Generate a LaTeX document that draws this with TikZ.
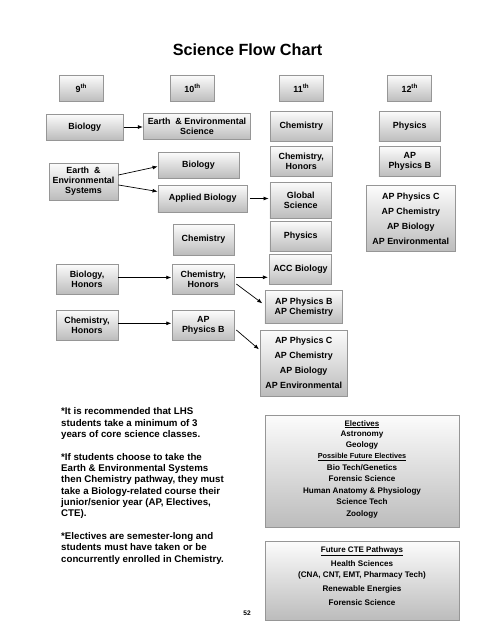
\documentclass[tikz,border=0pt]{standalone}
\usepackage{fontspec}
\setmainfont{Liberation Sans}
\usetikzlibrary{arrows.meta,calc}
\definecolor{boxborder}{RGB}{150,150,150}
\definecolor{boxtop}{RGB}{252,252,252}
\definecolor{boxbot}{RGB}{188,188,188}
\begin{document}
\begin{tikzpicture}[x=1pt,y=-1pt,
  sz/.style 2 args={minimum width=#1pt,minimum height=#2pt},
  box/.style={draw=boxborder, line width=0.8pt, top color=boxtop, bottom color=boxbot,
    align=center, inner sep=0pt, font=\fontsize{8.9}{10}\selectfont\bfseries},
  listbox/.style={box, font=\fontsize{8.9}{15}\selectfont\bfseries},
  bigbox/.style={draw=boxborder, line width=0.8pt, top color=boxtop, bottom color=boxbot, inner sep=0pt},
  etext/.style={anchor=base, inner sep=0pt, font=\fontsize{8.1}{10}\selectfont\bfseries},
  ehead/.style={anchor=base, inner sep=0pt, font=\fontsize{8.0}{10}\selectfont\bfseries},
  eheadsmall/.style={anchor=base, inner sep=0pt, font=\fontsize{7.3}{9}\selectfont\bfseries},
  arr/.style={-{Latex[length=5pt,width=4pt]}, line width=0.7pt, black}]
\useasboundingbox (0,0) rectangle (495,640);
\fill[white] (0,0) rectangle (495,640);

% title
\node[inner sep=0pt, font=\fontsize{16.2}{18}\selectfont\bfseries] (title) at (247.5,50) {Science Flow Chart};

% headers
\node[box, sz={44}{26.7}] (h9)  at (81.3,88.3)  {9\textsuperscript{th}};
\node[box, sz={43.6}{26.7}] (h10) at (192.5,88.3) {10\textsuperscript{th}};
\node[box, sz={44}{26.7}] (h11) at (301.3,88.3) {11\textsuperscript{th}};
\node[box, sz={44}{26.7}] (h12) at (409.7,88.3) {12\textsuperscript{th}};

% 9th column
\node[box, sz={77}{26}] (bio9) at (84.8,127) {Biology};
\node[box, sz={69}{37}] (ees9) at (83.5,181.5) {Earth~~\&\\Environmental\\Systems};
\node[box, sz={62}{30}] (bh9) at (87,279) {Biology,\\Honors};
\node[box, sz={62}{30}] (chh9) at (87,325) {Chemistry,\\Honors};

% 10th column
\node[box, sz={107.5}{26.5}] (ees10) at (197,126.2) {Earth~~\& Environmental\\Science};
\node[box, sz={81}{26}] (bio10) at (198.5,165) {Biology};
\node[box, sz={89.5}{27}] (ab10) at (202.7,198.5) {Applied Biology};
\node[box, sz={61}{31}] (chem10) at (203.5,239.5) {Chemistry};
\node[box, sz={61.3}{30}] (chh10) at (203.3,279.3) {Chemistry,\\Honors};
\node[box, sz={61.3}{30}] (apb10) at (203.3,325.7) {AP\\Physics B};

% 11th column
\node[box, sz={61.3}{30.7}] (chem11) at (301.3,126.3) {Chemistry};
\node[box, sz={61.3}{30}] (chh11) at (301.3,161.7) {Chemistry,\\Honors};
\node[box, sz={61.7}{36}] (gs11) at (300.8,200) {Global\\Science};
\node[box, sz={61.7}{30.7}] (phys11) at (300.8,236.3) {Physics};
\node[box, sz={62.4}{30.3}] (acc11) at (300.5,269.2) {ACC Biology};
\node[box, sz={77.7}{32.6}] (apbc11) at (303.8,307) {AP Physics B\\AP Chemistry};
\node[listbox, sz={87.3}{66}] (aplist11) at (303.7,363) {AP Physics C\\AP Chemistry\\AP Biology\\AP Environmental};

% 12th column
\node[box, sz={61.7}{30.7}] (phys12) at (409.8,126.3) {Physics};
\node[box, sz={61.7}{30}] (apb12) at (409.8,161.7) {AP\\Physics B};
\node[listbox, sz={88.3}{66}] (aplist12) at (410.8,218.7) {AP Physics C\\AP Chemistry\\AP Biology\\AP Environmental};

% arrows
\draw[arr] (bio9.east) -- (bio9.east -| ees10.west);
\draw[arr] ($(ees9.east)+(0,-6.5)$) -- ($(bio10.west)+(0,1.5)$);
\draw[arr] ($(ees9.east)+(0,3.5)$) -- ($(ab10.west)+(0,-7)$);
\draw[arr] ($(ab10.east)+(2,0)$) -- ($(ab10.east -| gs11.west)+(-1,0)$);
\draw[arr] ($(bh9.east)+(0,-1.5)$) -- ($(chh10.west)+(-1,-1.8)$);
\draw[arr] ($(chh10.east)+(2,-2)$) -- ($(chh10.east -| acc11.west)+(-1,-2)$);
\draw[arr] ($(chh10.east)+(2,4.7)$) -- ($(apbc11.west)+(-2.3,-3.7)$);
\draw[arr] ($(chh9.east)+(0,-1.7)$) -- ($(apb10.west)+(-1,-2.4)$);
\draw[arr] ($(apb10.east)+(2,4.3)$) -- ($(aplist11.west)+(-0.7,-13.7)$);

% notes
\node[anchor=north west, inner sep=0pt, align=left, font=\fontsize{9.7}{11.33}\selectfont\bfseries] (notes) at (61,407.5)
{*It is recommended that LHS\\
students take a minimum of 3\\
years of core science classes.\\[11.33pt]
*If students choose to take the\\
Earth \& Environmental Systems\\
then Chemistry pathway, they must\\
take a Biology-related course their\\
junior/senior year (AP, Electives,\\
CTE).\\[11.33pt]
*Electives are semester-long and\\
students must have taken or be\\
concurrently enrolled in Chemistry.};

% electives box
\node[bigbox, sz={194}{112}] (elect) at (362,471) {};
\node[ehead] (e1) at (362,426.1) {\underline{Electives}};
\node[etext] (e2) at (362,436.1) {Astronomy};
\node[etext] (e3) at (362,447.1) {Geology};
\node[eheadsmall] (e4) at (362,458.6) {\underline{Possible Future Electives}};
\node[etext] (e5) at (362,470.1) {Bio Tech/Genetics};
\node[etext] (e6) at (362,481.8) {Forensic Science};
\node[etext] (e7) at (362,493.5) {Human Anatomy \& Physiology};
\node[etext] (e8) at (362,504.8) {Science Tech};
\node[etext] (e9) at (362,516.8) {Zoology};

% CTE box
\node[bigbox, sz={194}{79}] (cte) at (362,580.5) {};
\node[ehead] (c1) at (362,552.1) {\underline{Future CTE Pathways}};
\node[etext] (c2) at (362,566.1) {Health Sciences};
\node[etext] (c3) at (362,577.8) {(CNA, CNT, EMT, Pharmacy Tech)};
\node[etext] (c4) at (362,591.8) {Renewable Energies};
\node[etext] (c5) at (362,605.5) {Forensic Science};

% page number
\node[anchor=base, inner sep=0pt, font=\fontsize{6.6}{8}\selectfont\bfseries] (page) at (247,615.5) {52};
\end{tikzpicture}
\end{document}
